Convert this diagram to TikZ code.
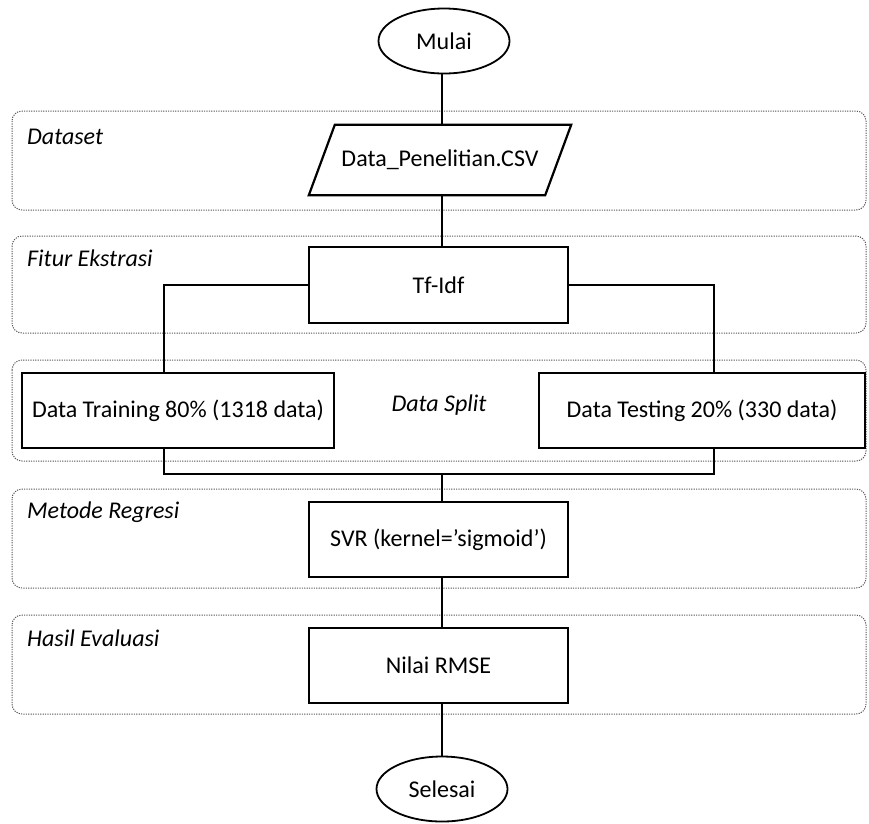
\documentclass[tikz,border=0pt]{standalone}
\usepackage{fontspec}
\setmainfont{Carlito}
\usetikzlibrary{shapes.geometric}
\begin{document}
\begin{tikzpicture}[x=1pt,y=-1pt,
  txt/.style={font=\fontsize{24}{26}\selectfont},
  box/.style={draw, line width=2.2pt, minimum width=259pt, minimum height=75pt, inner sep=0pt, txt},
  term/.style={ellipse, draw, line width=1.8pt, minimum width=131pt, minimum height=65pt, inner sep=0pt, txt},
  band/.style={draw=black!65, dash pattern=on 1.2pt off 1.2pt, line width=1pt, rounded corners=10pt},
  lab/.style={anchor=west, inner sep=0pt, font=\fontsize{24}{26}\selectfont\itshape},
  conn/.style={line width=1.8pt}]
\useasboundingbox (0,0) rectangle (869,823);
% bands
\draw[band] (12,111) rectangle (866,210);
\draw[band] (12,236) rectangle (866,333);
\draw[band] (12,360) rectangle (866,461);
\draw[band] (12,489) rectangle (866,588);
\draw[band] (12,615) rectangle (866,714);
\node[lab] (l1) at (27,137) {Dataset};
\node[lab] (l2) at (27,258) {Fitur Ekstrasi};
\node[lab] (l3) at (27,512) {Metode Regresi};
\node[lab] (l4) at (27,638) {Hasil Evaluasi};
\node[font=\fontsize{24}{26}\selectfont\itshape] (l5) at (439,405) {Data Split};
% nodes
\node[term] (mulai) at (444,41) {Mulai};
\node[minimum width=236pt, minimum height=70pt, inner sep=0pt, txt] (data) at (440,160) {Data\_Penelitian.CSV};
\draw[line width=2.2pt] ([xshift=13pt]data.north west) -- ([xshift=13pt]data.north east)
  -- ([xshift=-13pt]data.south east) -- ([xshift=-13pt]data.south west) -- cycle;
\node[box, minimum height=76pt] (tfidf) at (438.5,285) {Tf-Idf};
\node[box, minimum width=312pt] (train) at (178,410.5) {Data Training 80\% (1318 data)};
\node[box, minimum width=326pt] (test) at (702,410.5) {Data Testing 20\% (330 data)};
\node[box] (svr) at (438.5,539.5) {SVR (kernel=’sigmoid’)};
\node[box] (rmse) at (438.5,665.5) {Nilai RMSE};
\node[term] (selesai) at (442,789) {Selesai};
\coordinate (jl) at (164,474);
\coordinate (jr) at (714,474);
\coordinate (join) at (442,474);
% connectors
\draw[conn] (mulai.south -| join) -- (data.north -| join);
\draw[conn] (data.south -| join) -- (tfidf.north -| join);
\draw[conn] (tfidf.west) -| (train.north -| jl);
\draw[conn] (tfidf.east) -| (test.north -| jr);
\draw[conn] (train.south -| jl) -- (jl) -- (jr) -- (test.south -| jr);
\draw[conn] (join) -- (svr.north -| join);
\draw[conn] (svr.south -| join) -- (rmse.north -| join);
\draw[conn] (rmse.south -| join) -- (selesai.north -| join);
\end{tikzpicture}
\end{document}
